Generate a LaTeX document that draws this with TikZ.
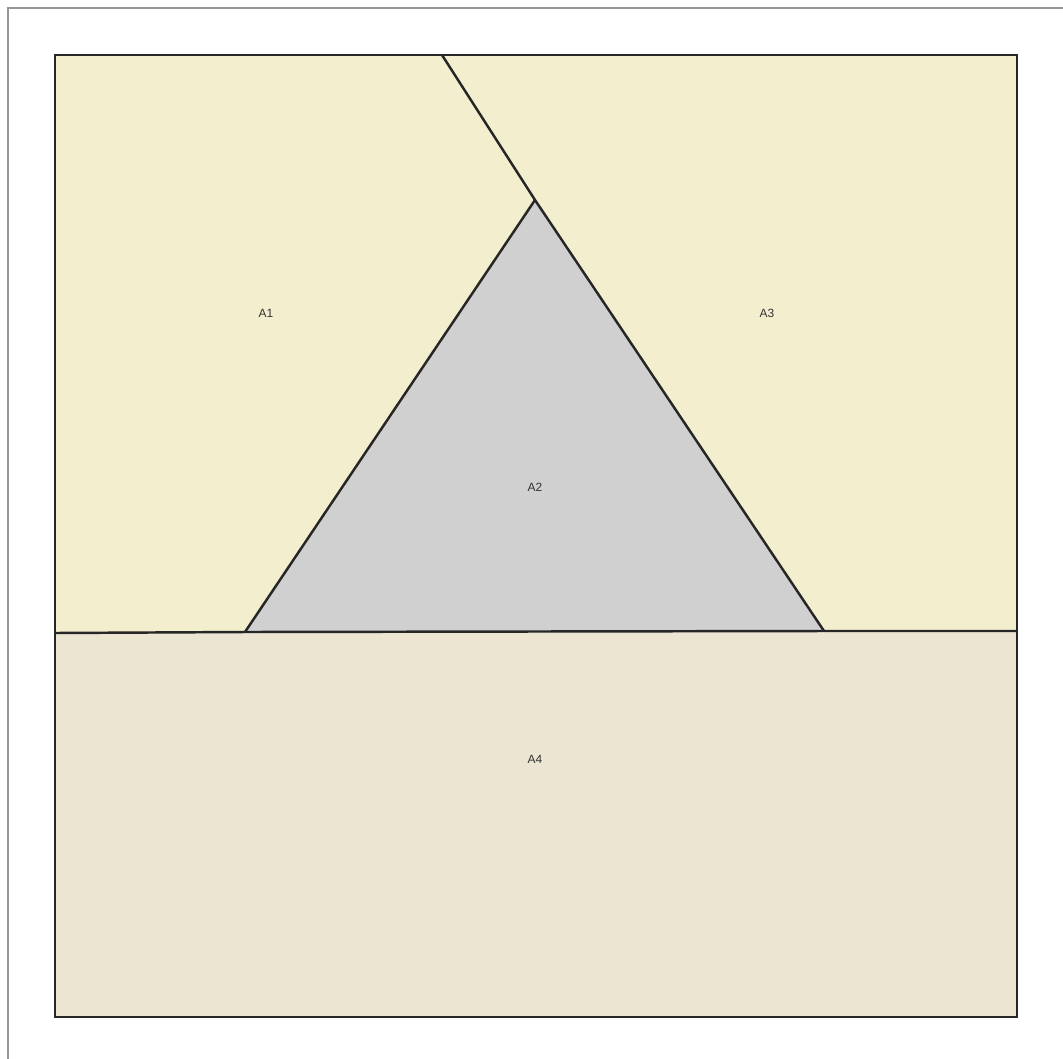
\documentclass[tikz,border=0pt]{standalone}
\usepackage{fontspec}
\setsansfont{Liberation Sans}
\usepackage{tikz}
\usetikzlibrary{calc}
\definecolor{areaA}{RGB}{242,238,206}
\definecolor{areaB}{RGB}{208,208,208}
\definecolor{areaC}{RGB}{235,229,210}
\definecolor{frameC}{RGB}{150,150,150}
\tikzset{lbl/.style={font=\sffamily\fontsize{6.8}{7}\selectfont, text=black!80}}

\begin{document}
\begin{tikzpicture}[x=0.02cm,y=-0.02cm]
\useasboundingbox (0,0) rectangle (1063,1059);
\draw [frameC, line width=0.8pt] (8,1059) -- (8,8) -- (1063,8);
% corners of the outline
\coordinate (tl) at (55,55);
\coordinate (tr) at (1017,55);
\coordinate (br) at (1017,1017);
\coordinate (bl) at (55,1017);
\coordinate (ml) at (55,633);
\coordinate (mr) at (1017,631);
% triangle and cut
\coordinate (apex) at (535,200);
\coordinate (bsl) at (245,632);
\coordinate (bsr) at (824,631);
\coordinate (cut) at (442,55);
\fill[areaA] (tl) -- (cut) -- (apex) -- (bsl) -- (ml) --cycle;
\fill[areaA] (cut) -- (tr) -- (mr) -- (bsr) -- (apex) --cycle;
\fill[areaB] (apex) -- (bsr) -- (bsl) --cycle;
\fill[areaC] (ml) -- (mr) -- (br) -- (bl) --cycle;
\draw [line width=1.4pt, black!85] (tl) -- (tr) -- (br) -- (bl) --cycle;
\draw [line width=1.4pt, black!85] (ml) -- (bsl) -- (bsr) -- (mr);
\draw [line width=1.4pt, black!85, line join=round] (bsl) -- (apex) -- (bsr);
\draw [line width=1.4pt, black!85] (cut) -- (apex);
\node[lbl] (a1) at (266,313) {A1};
\node[lbl] (a2) at (535,487) {A2};
\node[lbl] (a3) at (767,313) {A3};
\node[lbl] (a4) at (535,759) {A4};
\end{tikzpicture}
\end{document}
